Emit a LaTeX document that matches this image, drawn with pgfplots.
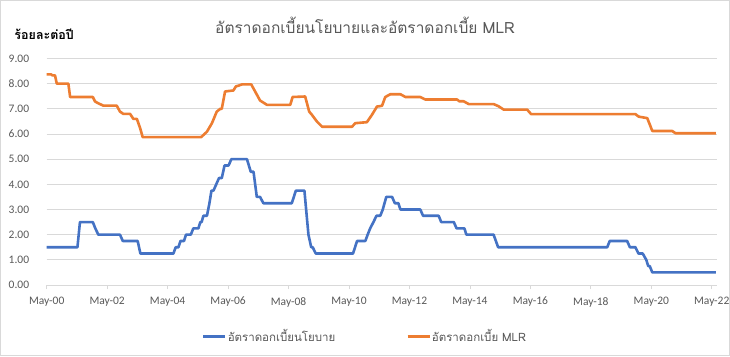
\documentclass[border=0pt]{standalone}
\usepackage{pgfplots}
\pgfplotsset{compat=1.18}
\usepackage{fontspec}
\setmainfont{Carlito}
\newfontfamily\thaifont[Script=Thai]{Loma}
\definecolor{ablue}{HTML}{4472C4}
\definecolor{aorange}{HTML}{ED7D31}
\definecolor{gridc}{HTML}{D9D9D9}
\definecolor{txt}{HTML}{595959}
\begin{document}
\begin{tikzpicture}
\fill[white] (-46.7pt,-71pt) rectangle (683.3pt,285pt);
\draw[gridc, line width=1.2pt] (-46.1pt,-70.4pt) rectangle (682.7pt,284.4pt);
\begin{axis}[
  scale only axis, width=670.6pt, height=226.5pt,
  xmin=0, xmax=266.2, ymin=0, ymax=9,
  axis x line*=bottom, axis y line*=left,
  y axis line style={draw=none},
  x axis line style={gridc, line width=0.8pt},
  xtick={0,24,...,264},
  xticklabels={May-00,May-02,May-04,May-06,May-08,May-10,May-12,May-14,May-16,May-18,May-20,May-22},
  ytick={0,1,...,9},
  yticklabel style={/pgf/number format/fixed, /pgf/number format/fixed zerofill, /pgf/number format/precision=2, /pgf/number format/assume math mode=true},
  ymajorgrids, grid style={gridc, line width=0.8pt},
  ytick style={draw=none},
  xtick style={gridc, line width=0.8pt},
  tick align=outside, major tick length=4pt,
  ticklabel style={font=\fontsize{11.5}{13}\selectfont, text=txt, inner sep=0pt},
  yticklabel style={anchor=east, xshift=-13.4pt},
  xticklabel style={anchor=north, yshift=-8pt},
  legend columns=2,
  legend style={at={(0.474,-0.228)}, anchor=center, draw=none, fill=none,
    font=\thaifont\fontsize{11.5}{13}\selectfont, text=txt,
    /tikz/every even column/.append style={column sep=70pt},
    nodes={inner xsep=1pt, inner ysep=1pt}},
  legend image code/.code={\draw[#1, line width=2.6pt] (0pt,0pt) -- (22pt,0pt);},
  every axis plot/.append style={line width=2.6pt, line join=round, mark=none},
]
\addplot[ablue] coordinates {
(0,1.5)(12.2,1.5)(13.2,2.5)(18.3,2.5)(19.3,2.25)(20.5,2.0)(29.1,2.0)(30.2,1.75)(36.1,1.75)(37.2,1.25)
(50.3,1.25)(51.2,1.5)(52.3,1.5)(53.1,1.75)(54.5,1.75)(55.3,2.0)(57.2,2.0)(58.2,2.25)(60.2,2.25)(61.0,2.5)
(61.5,2.5)(62.2,2.75)(63.6,2.75)(64.6,3.25)(65.4,3.75)(66.2,3.75)(67.3,4.0)(68.4,4.25)(69.5,4.25)(70.6,4.75)
(72.2,4.75)(73.3,5.0)(79.5,5.0)(81.0,4.5)(82.1,4.5)(83.4,3.5)(84.7,3.5)(86.0,3.25)(97.3,3.25)(98.9,3.75)
(102.3,3.75)(103.9,2.0)(105.0,1.5)(105.6,1.5)(106.8,1.25)(121.6,1.25)(123.2,1.75)(126.5,1.75)(127.4,2.0)(128.4,2.25)
(129.7,2.5)(130.9,2.75)(132.4,2.75)(133.4,3.0)(134.8,3.5)(137.1,3.5)(138.2,3.25)(139.6,3.25)(140.4,3.0)(148.3,3.0)
(149.4,2.75)(155.6,2.75)(156.6,2.5)(161.6,2.5)(162.7,2.25)(165.8,2.25)(166.6,2.0)(177.4,2.0)(179.2,1.5)(222.5,1.5)
(223.5,1.75)(230.4,1.75)(231.5,1.5)(233.7,1.5)(234.9,1.25)(236.6,1.25)(238.0,1.0)(238.8,0.75)(239.4,0.75)(240.4,0.5)
(265.6,0.5)
};
\addlegendentry{อัตราดอกเบี้ยนโยบาย}
\addplot[aorange] coordinates {
(0,8.37)(1.8,8.37)(2.2,8.33)(3.3,8.33)(4.0,8.0)(8.6,8.0)(9.3,7.47)(18.3,7.47)(19.2,7.29)(20.5,7.22)
(22.5,7.125)(27.8,7.125)(29.1,6.89)(30.4,6.8)(33.1,6.8)(34.4,6.6)(35.8,6.6)(37.1,6.23)(38.1,5.875)(61.3,5.875)
(63.6,6.09)(65.6,6.43)(67.5,6.89)(68.9,7.0)(69.5,7.0)(70.8,7.69)(74.1,7.73)(75.1,7.89)(76.1,7.92)(77.5,7.97)
(81.2,7.97)(84.7,7.33)(87.4,7.16)(96.7,7.16)(97.6,7.47)(102.6,7.49)(104.2,6.89)(105.3,6.76)(107.3,6.49)(109.3,6.29)
(121.2,6.29)(122.5,6.43)(127.1,6.47)(129.1,6.76)(131.1,7.09)(133.1,7.12)(134.4,7.47)(136.4,7.58)(140.4,7.58)(142.4,7.47)
(148.3,7.47)(150.3,7.37)(162.9,7.37)(163.8,7.3)(165.5,7.3)(167.5,7.19)(177.4,7.19)(179.4,7.1)(181.4,6.97)(190.7,6.97)
(192.3,6.79)(233.7,6.79)(235.0,6.69)(238.4,6.63)(240.4,6.12)(248.3,6.12)(249.6,6.03)(265.6,6.03)
};
\addlegendentry{อัตราดอกเบี้ย MLR}
\end{axis}
\node[font=\thaifont\fontsize{15.5}{18}\selectfont, text=txt] at (318.3pt,260pt) {อัตราดอกเบี้ยนโยบายและอัตราดอกเบี้ย MLR};
\node[font=\thaifont\bfseries\fontsize{12.5}{15}\selectfont, text=black] at (-2.5pt,251pt) {ร้อยละต่อปี};
\pgfresetboundingbox
\path[use as bounding box] (-46.7pt,-71pt) rectangle (683.3pt,285pt);
\end{tikzpicture}
\end{document}
